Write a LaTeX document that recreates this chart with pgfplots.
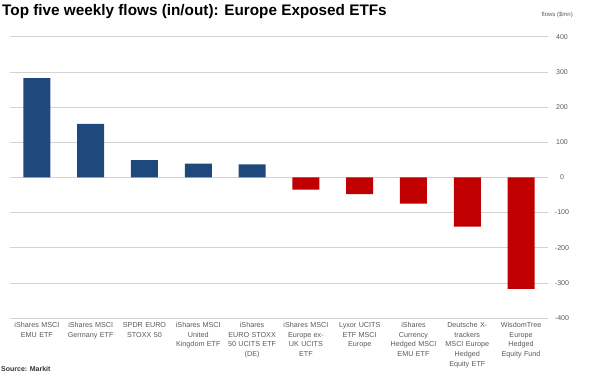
\documentclass[border=0pt]{standalone}
\usepackage{pgfplots}
\pgfplotsset{compat=1.18}
\usepackage{fontspec}
\setmainfont{Liberation Sans}
\definecolor{barblue}{HTML}{1F497D}
\definecolor{barred}{HTML}{C00000}
\definecolor{lbl}{HTML}{595959}
\begin{document}
\begin{tikzpicture}
\path[use as bounding box] (0pt,0pt) rectangle (590pt,-377pt);
\begin{axis}[
  scale only axis, width=538pt, height=281.3pt,
  anchor=south west, at={(10pt,-318pt)},
  xmin=-0.5, xmax=9.5, ymin=-400, ymax=400,
  ytick={-400,-300,...,400},
  yticklabel pos=right,
  yticklabel style={font=\fontsize{7}{8}\selectfont, text=lbl, anchor=center, xshift=14pt},
  /pgf/number format/assume math mode=true,
  axis line style={draw=none},
  major tick length=0pt,
  ymajorgrids, grid style={gray!35, line width=0.6pt},
  xtick={0,...,9},
  xticklabels={
    {iShares MSCI\\EMU ETF},
    {iShares MSCI\\Germany ETF},
    {SPDR EURO\\STOXX 50},
    {iShares MSCI\\United\\Kingdom ETF},
    {iShares\\EURO STOXX\\50 UCITS ETF\\(DE)},
    {iShares MSCI\\Europe ex-\\UK UCITS\\ETF},
    {Lyxor UCITS\\ETF MSCI\\Europe},
    {iShares\\Currency\\Hedged MSCI\\EMU ETF},
    {Deutsche X-\\trackers\\MSCI Europe\\Hedged\\Equity ETF},
    {WisdomTree\\Europe\\Hedged\\Equity Fund}},
  xticklabel style={font=\fontsize{7.2}{9.6}\selectfont, text=lbl, text width=60pt, align=center, anchor=north, yshift=-1pt},
  ybar, bar width=27pt,
]
\addplot[fill=barblue, draw=none, bar shift=0pt] coordinates {(0,282) (1,152) (2,49) (3,39) (4,37)};
\addplot[fill=barred, draw=none, bar shift=0pt] coordinates {(5,-35) (6,-48) (7,-75) (8,-140) (9,-317)};
\end{axis}
\node[anchor=west, font=\bfseries\fontsize{15.3}{17}\selectfont, inner sep=0pt] at (2pt,-12pt) {Top five weekly flows (in/out): Europe Exposed ETFs};
\node[anchor=east, font=\fontsize{6}{7}\selectfont, text=lbl, inner sep=0pt] at (573pt,-15pt) {flows (\$mn)};
\node[anchor=west, font=\bfseries\fontsize{7}{8}\selectfont, text=black!80, inner sep=0pt] at (1pt,-369pt) {Source: Markit};
\end{tikzpicture}
\end{document}
